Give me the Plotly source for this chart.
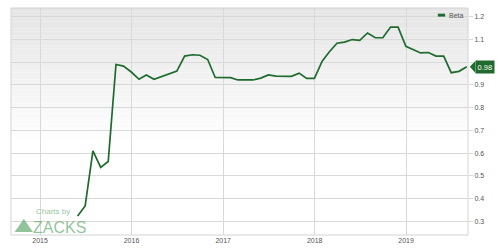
import plotly.graph_objects as go

dates = ["2015-05-31","2015-06-30","2015-07-31","2015-08-31","2015-09-30","2015-10-31","2015-11-30","2015-12-31",
         "2016-01-31","2016-02-29","2016-03-31","2016-04-30","2016-05-31","2016-06-30","2016-07-31","2016-08-31",
         "2016-09-30","2016-10-31","2016-11-30","2016-12-31",
         "2017-01-31","2017-02-28","2017-03-31","2017-04-30","2017-05-31","2017-06-30","2017-07-31","2017-08-31",
         "2017-09-30","2017-10-31","2017-11-30","2017-12-31",
         "2018-01-31","2018-02-28","2018-03-31","2018-04-30","2018-05-31","2018-06-30","2018-07-31","2018-08-31",
         "2018-09-30","2018-10-31","2018-11-30","2018-12-31",
         "2019-01-31","2019-02-28","2019-03-31","2019-04-30","2019-05-31","2019-06-30","2019-07-31","2019-08-31"]
beta = [0.323,0.367,0.61,0.537,0.563,0.99,0.983,0.957,
        0.925,0.944,0.925,0.938,0.951,0.961,1.027,1.033,
        1.031,1.012,0.933,0.933,
        0.932,0.922,0.922,0.922,0.93,0.944,0.939,0.938,
        0.938,0.952,0.929,0.929,
        1.005,1.045,1.084,1.089,1.10,1.096,1.129,1.108,
        1.108,1.155,1.155,1.07,
        1.056,1.041,1.043,1.027,1.027,0.954,0.96,0.98]

year_ticks = ["2015-01-01","2016-01-01","2017-01-01","2018-01-01","2019-01-01"]
year_labels = ["2015","2016","2017","2018","2019"]
y_ticks = [0.3,0.4,0.5,0.6,0.7,0.8,0.9,1.0,1.1,1.2]
y_labels = ["0.3","0.4","0.5","0.6","0.7","0.8","0.9","","1.1","1.2"]
series_name = "Beta"
last_label = "0.98"

GREEN = "#1f6a2d"
GRID = "#d9d9d9"
FONT = "Liberation Sans, Arial"
LOGO = "rgba(110,175,120,0.75)"

fig = go.Figure()
fig.add_trace(go.Scatter(x=dates, y=beta, mode="lines", name=series_name,
                         line=dict(color=GREEN, width=1.7), showlegend=False))

shapes = []
# gradient background (top grey -> white)
n = 40
for i in range(n):
    y0 = 1 - i * 0.6 / n
    y1 = 1 - (i + 1) * 0.6 / n
    t = i / (n - 1)
    c = int(229 + (255 - 229) * t)
    shapes.append(dict(type="rect", xref="paper", yref="paper", x0=0, x1=1, y0=y1, y1=y0,
                       fillcolor=f"rgb({c},{c},{c})", line=dict(width=0), layer="below"))
# plot border
shapes.append(dict(type="rect", xref="paper", yref="paper", x0=0, x1=1, y0=0, y1=1,
                   line=dict(color="#d4d4d4", width=1), fillcolor="rgba(0,0,0,0)", layer="above"))
# legend swatch
shapes.append(dict(type="rect", xref="paper", yref="paper", x0=0.934, x1=0.950, y0=0.962, y1=0.975,
                   fillcolor=GREEN, line=dict(width=0), layer="above"))
# arrow marker for last value
shapes.append(dict(type="path", xref="paper", yref="y",
                   path=f"M 1.004 {beta[-1]} L 1.016 {beta[-1]+0.026} L 1.016 {beta[-1]-0.026} Z",
                   fillcolor=GREEN, line=dict(width=0), layer="above"))
# Zacks logo triangle
shapes.append(dict(type="path", xref="paper", yref="paper",
                   path="M 0.008 0.013 L 0.048 0.013 L 0.028 0.072 Z",
                   fillcolor=LOGO, line=dict(width=0), layer="above"))

annotations = [
    dict(xref="paper", yref="paper", x=0.955, y=0.968, xanchor="left", yanchor="middle",
         text=series_name, showarrow=False,
         font=dict(size=7, color="#555", family=FONT)),
    dict(xref="paper", yref="y", x=1.015, y=beta[-1], xanchor="left", yanchor="middle",
         text=last_label, showarrow=False, bgcolor=GREEN, borderpad=1.5,
         font=dict(color="white", size=7.5, family=FONT)),
    dict(xref="paper", yref="paper", x=0.052, y=0.1026, xanchor="left", yanchor="middle",
         text="Charts by", showarrow=False, borderpad=0,
         font=dict(color=LOGO, size=8, family=FONT)),
    dict(xref="paper", yref="paper", x=0.047, y=0.035, xanchor="left", yanchor="middle",
         text="ZACKS", showarrow=False, borderpad=0,
         font=dict(color=LOGO, size=16, family=FONT)),
]

fig.update_layout(
    width=500, height=252,
    margin=dict(l=11, r=32, t=8, b=15),
    paper_bgcolor="white",
    plot_bgcolor="white",
    showlegend=False,
    shapes=shapes,
    annotations=annotations,
    xaxis=dict(type="date", range=["2014-09-07", "2019-09-05"],
               tickvals=year_ticks, ticktext=year_labels,
               showgrid=True, gridcolor=GRID, gridwidth=1,
               zeroline=False, showline=False, ticks="",
               tickfont=dict(size=7, color="#555", family=FONT)),
    yaxis=dict(range=[0.239, 1.239], side="right",
               tickvals=y_ticks, ticktext=y_labels,
               showgrid=True, gridcolor=GRID, gridwidth=1,
               zeroline=False, showline=False, ticks="outside", ticklen=4, tickcolor=GRID,
               tickfont=dict(size=7, color="#555", family=FONT)),
)

fig.write_html("out.html")
